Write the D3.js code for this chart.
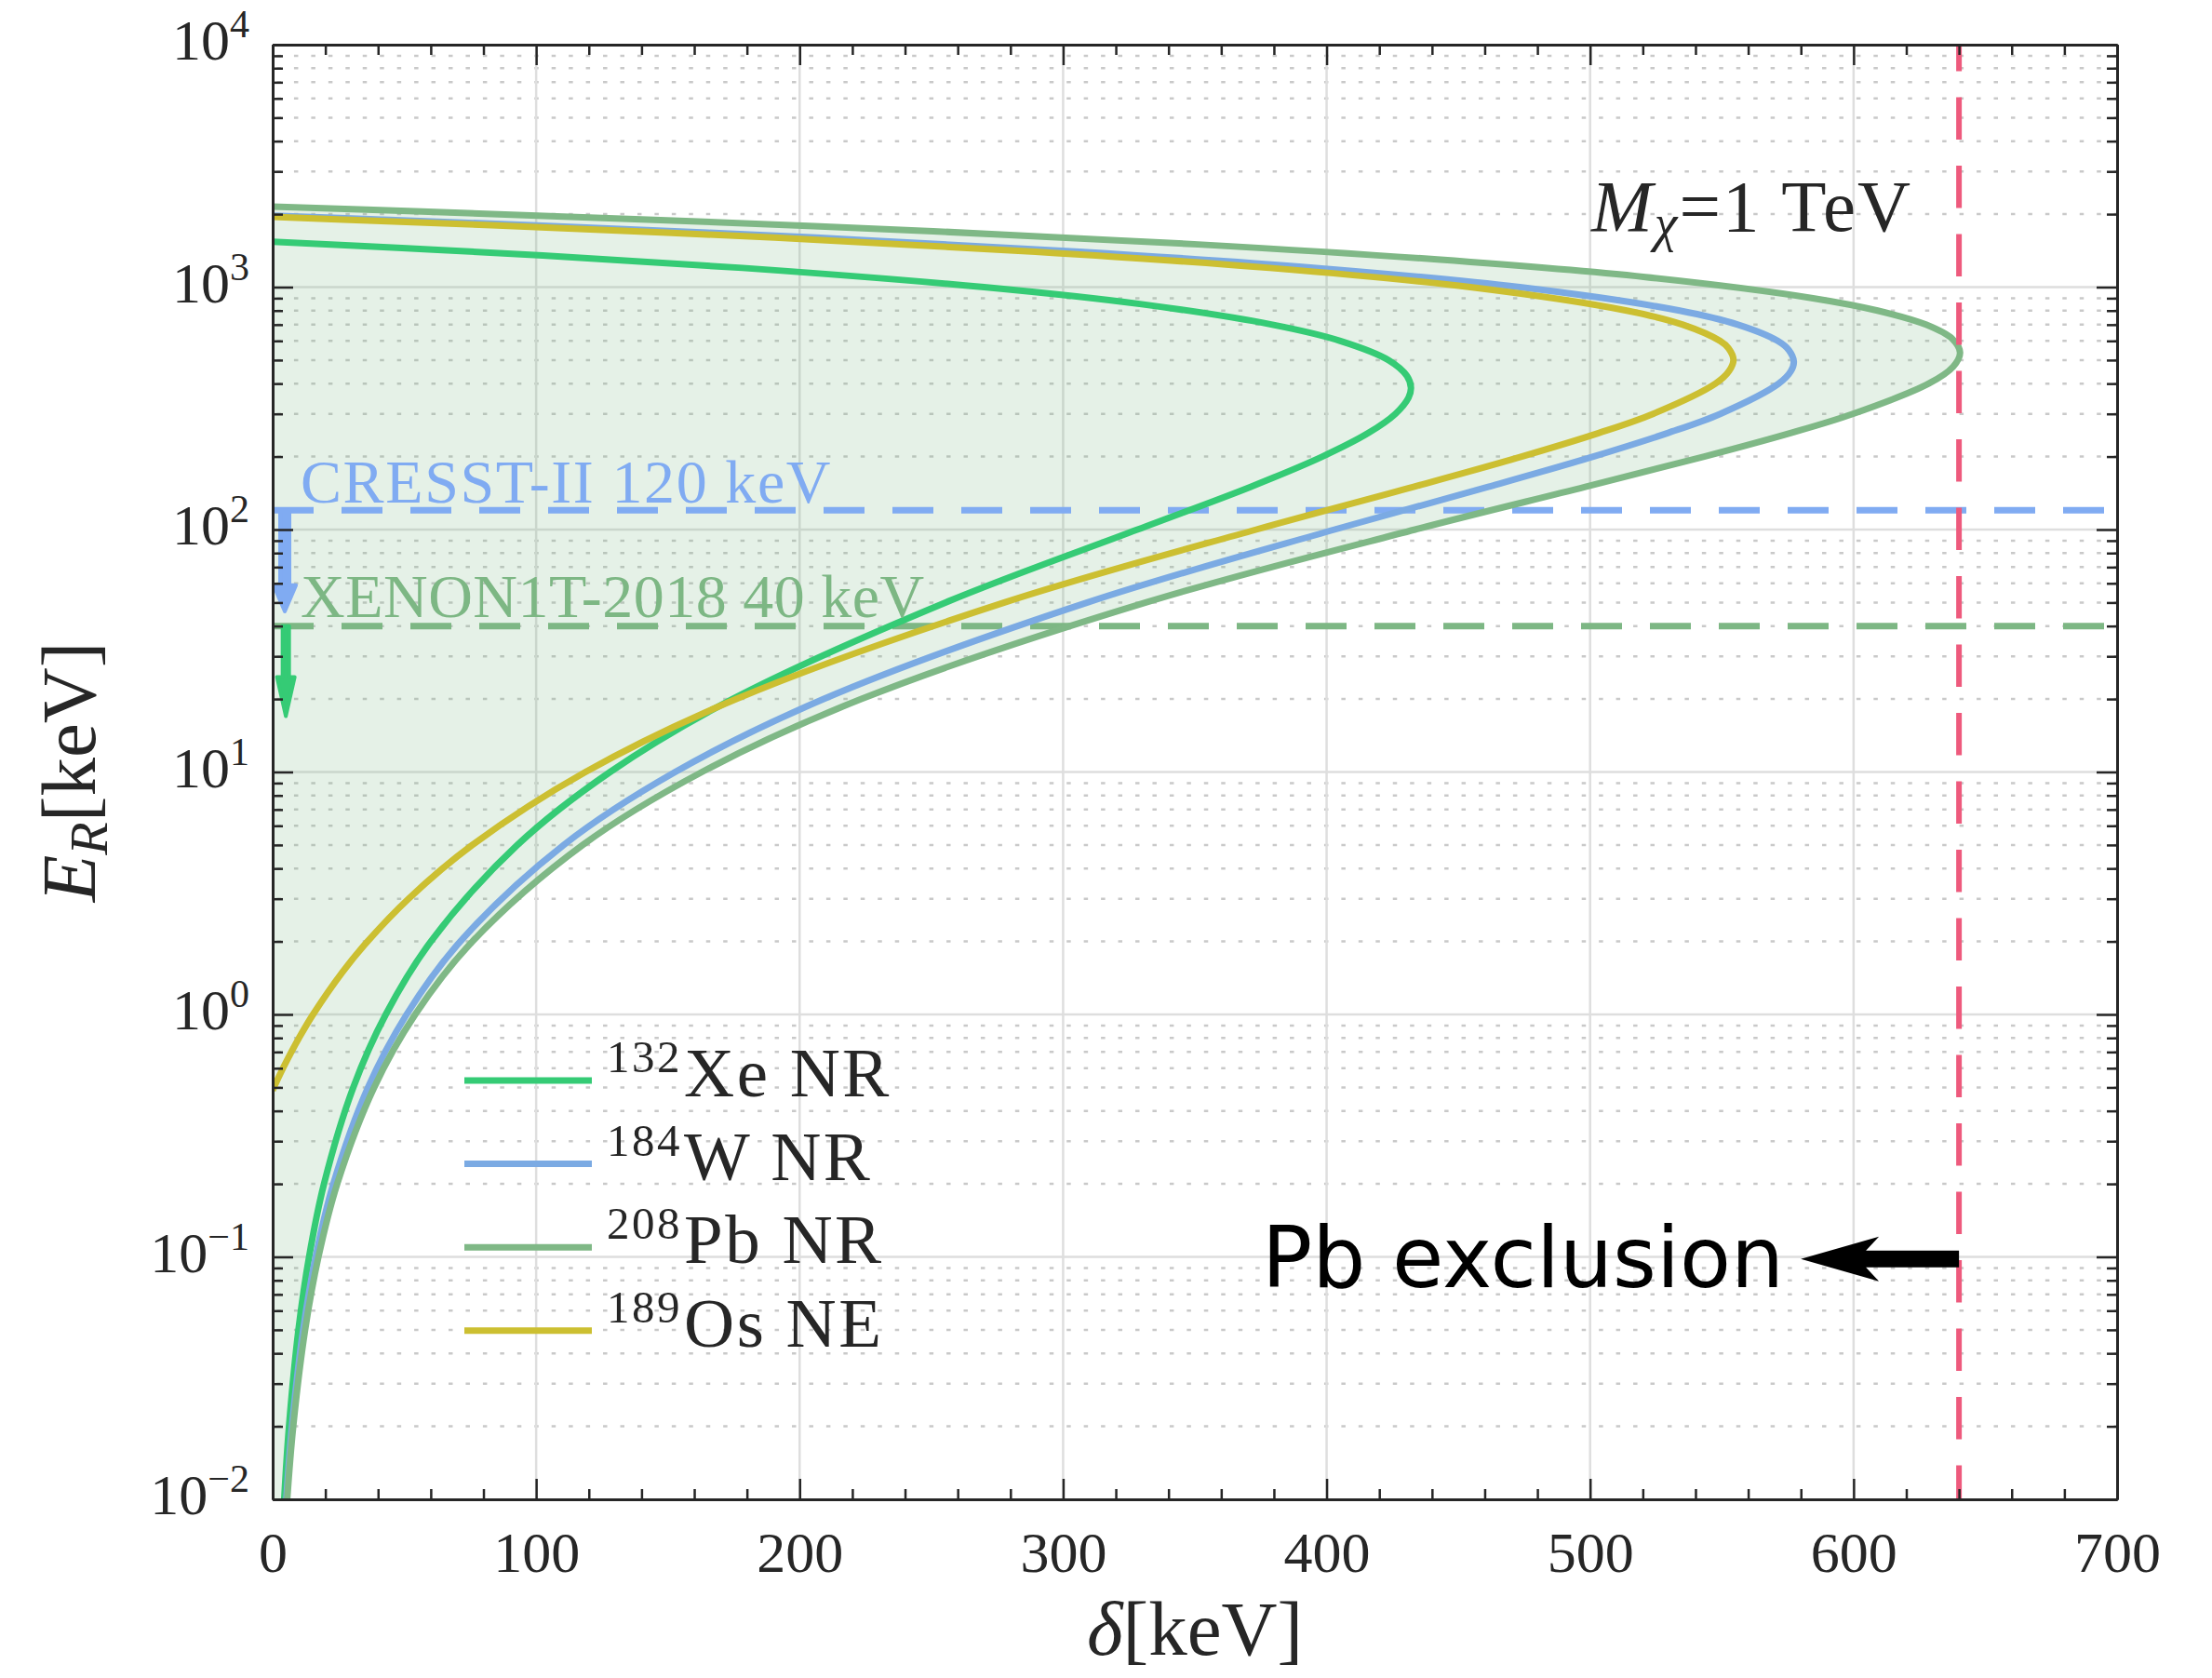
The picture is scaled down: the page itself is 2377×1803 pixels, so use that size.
<!DOCTYPE html>
<html>
<head>
<meta charset="utf-8">
<script src="https://cdn.jsdelivr.net/npm/d3@7"></script>
<style>
  body { margin: 0; background: #fff; }
  svg { display: block; }
</style>
</head>
<body>
<div id="chart"></div>
<script>
// Curves: [delta (keV), E_R (keV)], from the low branch up to the top branch
var xeCurve = [[3.11,0.005],[4.39,0.01],[6.21,0.02],[9.79,0.05],[13.82,0.1],[19.48,0.2],[30.59,0.5],[42.93,1],
  [60.05,2],[92.88,5],[128.07,10],[174.54,20],[255.33,50],[328.2,100],[371.1,150],[398.4,200],[415.8,250],
  [426.1,300],[431.1,350],[432.0,384.7],[430.5,430],[423.5,500],[405.2,600],[379.4,700],[329.8,850],
  [270.0,1000],[178.3,1200],[102.5,1350],[49.1,1450],[0,1538.7]];

var wCurve = [[3.68,0.005],[5.19,0.01],[7.33,0.02],[11.57,0.05],[16.33,0.1],[23.03,0.2],[36.19,0.5],[50.84,1],
  [71.21,2],[110.44,5],[152.76,10],[209.17,20],[309.2,50],[403.0,100],[461.3,150],[501.2,200],[529.4,250],
  [549.4,300],[571.6,400],[576.2,450],[577.3,492.8],[575.4,550],[571.2,600],[556.1,700],[534.0,800],
  [473.3,1000],[396.0,1200],[306.1,1400],[206.2,1600],[98.1,1800],[41.4,1900],[0,1971.4]];

var pbCurve = [[3.91,0.005],[5.52,0.01],[7.80,0.02],[12.31,0.05],[17.37,0.1],[24.49,0.2],[38.51,0.5],[54.11,1],
  [75.82,2],[117.68,5],[162.93,10],[223.43,20],[331.34,50],[433.6,100],[498.2,150],[543.3,200],[576.0,250],
  [599.7,300],[628.5,400],[637.8,470],[640.4,536.5],[637.6,610],[627.5,700],[609.1,800],[584.6,900],
  [521.0,1100],[442.0,1300],[351.2,1500],[250.7,1700],[142.4,1900],[56.6,2050],[0,2146]];

var osCurve = [[0,0.4862],[0.48,0.5],[3.92,0.6],[7.08,0.7],[10.00,0.8],[15.33,1],[26.59,1.5],[35.99,2],[51.57,3],
  [75.78,5],[118.72,10],[176.0,20],[277.71,50],[373.3,100],[433.0,150],[474.0,200],[503.2,250],[523.9,300],
  [547.6,400],[552.7,450],[554.4,502.2],[552.5,560],[549.3,600],[535.2,700],[513.9,800],[454.5,1000],
  [378.4,1200],[289.5,1400],[190.5,1600],[83.2,1800],[26.9,1900],[0,1947]];

var legendIso = ["132", "184", "208", "189"];
var legendName = ["Xe NR", "W NR", "Pb NR", "Os NE"];

var cresstLimit = 120, xenonLimit = 40;      // keV thresholds
var cresstArrowEnd = 46, xenonArrowEnd = 17; // where the down arrows stop
var pbExclusion = 640;                       // keV
var xMajor = [0, 100, 200, 300, 400, 500, 600, 700];
var yDecades = [-2, -1, 0, 1, 2, 3, 4];

var serif = "'Liberation Serif', 'DejaVu Serif', serif";
var ink = "#262626";
var xeColor = "#35cb75", wColor = "#7baae3", pbColor = "#7fb886", osColor = "#ccbf31";
var cresstColor = "#80abf2", xenonColor = "#7db784", redColor = "#ee5a7d";

var width = 2377, height = 1803;
var margin = {top: 48, right: 102, bottom: 192, left: 293};

var svg = d3.select("#chart").append("svg")
    .attr("width", width)
    .attr("height", height);

var x = d3.scaleLinear().domain([0, 700]).range([margin.left, width - margin.right]);
var y = d3.scaleLog().domain([1e-2, 1e4]).range([height - margin.bottom, margin.top]);

var x0 = x.range()[0], x1 = x.range()[1], yTop = y.range()[1], yBot = y.range()[0];

svg.append("clipPath").attr("id", "plot")
  .append("rect").attr("x", x0).attr("y", yTop).attr("width", x1 - x0).attr("height", yBot - yTop);

// grid
var yMinor = [];
yDecades.slice(0, -1).forEach(function(d) {
    for (var k = 2; k <= 9; k++) yMinor.push(k * Math.pow(10, d));
});
var grid = svg.append("g");
grid.selectAll(".ymin").data(yMinor).enter().append("line")
    .attr("x1", x0).attr("x2", x1)
    .attr("y1", function(d) { return y(d); }).attr("y2", function(d) { return y(d); })
    .attr("stroke", "#c9c9c9").attr("stroke-width", 2.5)
    .attr("stroke-dasharray", "4.5,13.95").attr("stroke-dashoffset", -4.5);
grid.selectAll(".ymaj").data(yDecades.slice(1, -1)).enter().append("line")
    .attr("x1", x0).attr("x2", x1)
    .attr("y1", function(d) { return y(Math.pow(10, d)); }).attr("y2", function(d) { return y(Math.pow(10, d)); })
    .attr("stroke", "#dedede").attr("stroke-width", 2.5);
grid.selectAll(".xmaj").data(xMajor.slice(1, -1)).enter().append("line")
    .attr("y1", yTop).attr("y2", yBot)
    .attr("x1", function(d) { return x(d); }).attr("x2", function(d) { return x(d); })
    .attr("stroke", "#dedede").attr("stroke-width", 2.5);

var line = d3.line()
    .x(function(d) { return x(d[0]); })
    .y(function(d) { return y(d[1]); })
    .curve(d3.curveCatmullRom.alpha(0.5));

var plot = svg.append("g").attr("clip-path", "url(#plot)");

// shaded region left of the Pb curve
plot.append("path")
    .attr("d", line(pbCurve) + "L" + x(0) + "," + y(pbCurve[0][1]) + "Z")
    .attr("fill", pbColor).attr("fill-opacity", 0.2).attr("stroke", "none");

// threshold lines
plot.append("line")
    .attr("x1", x0).attr("x2", x1).attr("y1", y(cresstLimit)).attr("y2", y(cresstLimit))
    .attr("stroke", cresstColor).attr("stroke-width", 7).attr("stroke-dasharray", "44,30");
plot.append("line")
    .attr("x1", x0).attr("x2", x1).attr("y1", y(xenonLimit)).attr("y2", y(xenonLimit))
    .attr("stroke", xenonColor).attr("stroke-width", 7).attr("stroke-dasharray", "44,30");

// curves
[[xeCurve, xeColor], [wCurve, wColor], [pbCurve, pbColor], [osCurve, osColor]].forEach(function(c) {
    plot.append("path")
        .attr("d", line(c[0]))
        .attr("fill", "none").attr("stroke", c[1]).attr("stroke-width", 7);
});

// Pb exclusion line
plot.append("line")
    .attr("x1", x(pbExclusion)).attr("x2", x(pbExclusion)).attr("y1", yTop).attr("y2", yBot)
    .attr("stroke", redColor).attr("stroke-width", 6)
    .attr("stroke-dasharray", "45.5,28").attr("stroke-dashoffset", 17);

// down arrows below the thresholds
function downArrow(xv, top, bottom, color, shaftW, headW, headL) {
    var cx = x(xv), ya = y(top), yb = y(bottom);
    var pts = [[cx - shaftW / 2, ya], [cx + shaftW / 2, ya], [cx + shaftW / 2, yb - headL],
        [cx + headW / 2, yb - headL], [cx, yb], [cx - headW / 2, yb - headL], [cx - shaftW / 2, yb - headL]];
    svg.append("path")
        .attr("d", d3.line()(pts) + "Z")
        .attr("fill", color).attr("stroke", color).attr("stroke-width", 4).attr("stroke-linejoin", "round");
}
downArrow(4.6, cresstLimit, cresstArrowEnd, cresstColor, 10, 24, 28);
downArrow(5, xenonLimit, xenonArrowEnd, xeColor, 7, 19, 42);

// threshold labels
svg.append("text")
    .attr("x", x(10.6)).attr("y", y(cresstLimit) - 8)
    .attr("font-family", serif).attr("font-size", 66).attr("letter-spacing", 1.6).attr("fill", cresstColor)
    .text("CRESST-II 120 keV");
svg.append("text")
    .attr("x", x(10.6)).attr("y", y(xenonLimit) - 10)
    .attr("font-family", serif).attr("font-size", 66).attr("letter-spacing", 0.5).attr("fill", xenonColor)
    .text("XENON1T-2018 40 keV");

// Pb exclusion arrow + label
var ay = y(0.098), tail = x(pbExclusion), tip = tail - 170;
var arrowPts = [[tip, ay], [tip + 84, ay - 24], [tip + 70, ay - 9], [tail, ay - 9],
    [tail, ay + 9], [tip + 70, ay + 9], [tip + 84, ay + 24]];
svg.append("path").attr("d", d3.line()(arrowPts) + "Z").attr("fill", "#000");
svg.append("text")
    .attr("x", tip - 18).attr("y", ay + 30)
    .attr("text-anchor", "end")
    .attr("font-family", "'DejaVu Sans', sans-serif").attr("font-size", 90).attr("fill", "#000")
    .text("Pb exclusion");

// mass label
var ml = svg.append("text")
    .attr("x", 1710).attr("y", 248)
    .attr("font-family", serif).attr("font-size", 79).attr("letter-spacing", 2).attr("fill", ink);
ml.append("tspan").attr("font-style", "italic").text("M");
ml.append("tspan").attr("font-style", "italic").attr("font-size", 56).attr("dy", 11).text("\u03c7");
ml.append("tspan").attr("dy", -11).text("=1 TeV");

// legend
var legendColors = [xeColor, wColor, pbColor, osColor];
var leg = svg.append("g").selectAll("g").data(legendName).enter().append("g")
    .attr("transform", function(d, i) { return "translate(0," + (1161 + i * 89.6) + ")"; });
leg.append("line")
    .attr("x1", 499).attr("x2", 636).attr("y1", 0).attr("y2", 0)
    .attr("stroke", function(d, i) { return legendColors[i]; }).attr("stroke-width", 7);
var lt = leg.append("text")
    .attr("x", 652).attr("y", 17)
    .attr("font-family", serif).attr("font-size", 75).attr("letter-spacing", 2.5).attr("fill", ink);
lt.append("tspan").attr("font-size", 49).attr("dy", -26).text(function(d, i) { return legendIso[i]; });
lt.append("tspan").attr("dy", 26).attr("dx", 2).text(function(d) { return d; });

// axes (ticks point inward on all four sides)
function styleAxis(g) {
    g.attr("color", ink).attr("font-family", serif).attr("font-size", 62);
    g.select(".domain").attr("stroke-width", 3);
    g.selectAll(".tick line").attr("stroke-width", 2.5);
}
var xMinor = d3.range(20, 700, 20).filter(function(d) { return d % 100 !== 0; });

var gb = svg.append("g").attr("transform", "translate(0," + yBot + ")")
    .call(d3.axisBottom(x).tickValues(xMajor).tickSizeInner(-22).tickSizeOuter(0).tickFormat(d3.format("d")));
styleAxis(gb);
gb.selectAll(".tick text").attr("y", 78).attr("dy", 0).attr("fill", ink);
svg.append("g").attr("transform", "translate(0," + yBot + ")")
    .call(d3.axisBottom(x).tickValues(xMinor).tickSizeInner(-11).tickSizeOuter(0).tickFormat(""))
    .call(styleAxis);

svg.append("g").attr("transform", "translate(0," + yTop + ")")
    .call(d3.axisTop(x).tickValues(xMajor).tickSizeInner(-22).tickSizeOuter(0).tickFormat(""))
    .call(styleAxis);
svg.append("g").attr("transform", "translate(0," + yTop + ")")
    .call(d3.axisTop(x).tickValues(xMinor).tickSizeInner(-11).tickSizeOuter(0).tickFormat(""))
    .call(styleAxis);

var yMajorVals = yDecades.map(function(d) { return Math.pow(10, d); });
svg.append("g").attr("transform", "translate(" + x0 + ",0)")
    .call(d3.axisLeft(y).tickValues(yMajorVals).tickSizeInner(-22).tickSizeOuter(0).tickFormat(""))
    .call(styleAxis);
svg.append("g").attr("transform", "translate(" + x0 + ",0)")
    .call(d3.axisLeft(y).tickValues(yMinor).tickSizeInner(-11).tickSizeOuter(0).tickFormat(""))
    .call(styleAxis);
svg.append("g").attr("transform", "translate(" + x1 + ",0)")
    .call(d3.axisRight(y).tickValues(yMajorVals).tickSizeInner(-22).tickSizeOuter(0).tickFormat(""))
    .call(styleAxis);
svg.append("g").attr("transform", "translate(" + x1 + ",0)")
    .call(d3.axisRight(y).tickValues(yMinor).tickSizeInner(-11).tickSizeOuter(0).tickFormat(""))
    .call(styleAxis);

// y tick labels as 10^n
var yl = svg.append("g").selectAll("text").data(yDecades).enter().append("text")
    .attr("x", x0 - 25)
    .attr("y", function(d) { return y(Math.pow(10, d)) + 16; })
    .attr("text-anchor", "end")
    .attr("font-family", serif).attr("font-size", 62).attr("fill", ink);
yl.append("tspan").text("10");
yl.append("tspan").attr("font-size", 42).attr("dy", -24)
    .text(function(d) { return d < 0 ? "\u2212" + (-d) : String(d); });

// axis titles
var xt = svg.append("text")
    .attr("x", (x0 + x1) / 2).attr("y", 1778)
    .attr("text-anchor", "middle")
    .attr("font-family", serif).attr("font-size", 83).attr("fill", ink);
xt.append("tspan").attr("font-style", "italic").text("\u03b4");
xt.append("tspan").text("[keV]");

var yt = svg.append("text")
    .attr("transform", "translate(102," + ((yTop + yBot) / 2) + ") rotate(-90)")
    .attr("text-anchor", "middle")
    .attr("font-family", serif).attr("font-size", 83).attr("fill", ink);
yt.append("tspan").attr("font-style", "italic").text("E");
yt.append("tspan").attr("font-style", "italic").attr("font-size", 58).attr("dy", 13).text("R");
yt.append("tspan").attr("dy", -13).text("[keV]");
</script>
</body>
</html>
